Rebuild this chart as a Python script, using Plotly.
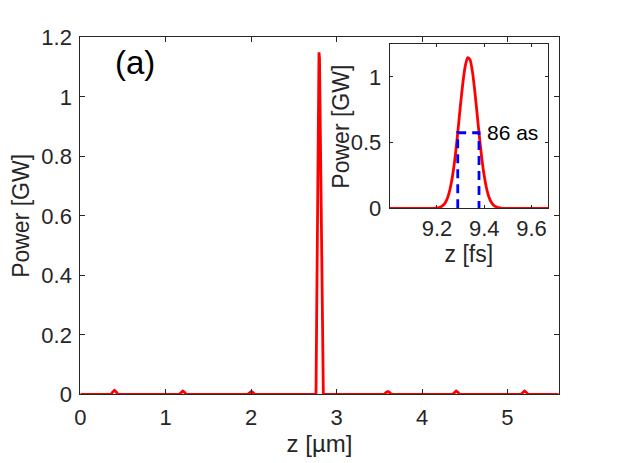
import plotly.graph_objects as go

# ---- main panel data (z in µm, power in GW) ----
main_z = [0.0, 0.36, 0.38, 0.40, 0.42, 0.44,
          1.16, 1.18, 1.20, 1.22, 1.24,
          1.96, 1.98, 2.00, 2.02, 2.04,
          2.759, 2.794, 2.800, 2.845,
          3.56, 3.58, 3.60, 3.62, 3.64,
          4.36, 4.38, 4.40, 4.42, 4.44,
          5.16, 5.18, 5.20, 5.22, 5.24, 5.6]
main_p = [0.0, 0.0, 0.008, 0.013, 0.008, 0.0,
          0.0, 0.007, 0.011, 0.007, 0.0,
          0.0, 0.006, 0.009, 0.006, 0.0,
          0.0, 1.15, 1.13, 0.0,
          0.0, 0.006, 0.009, 0.006, 0.0,
          0.0, 0.007, 0.011, 0.007, 0.0,
          0.0, 0.007, 0.011, 0.007, 0.0, 0.0]

# ---- inset data (z in fs, power in GW) ----
inset_z = [9.00, 9.19, 9.20, 9.21, 9.22, 9.23, 9.24, 9.25, 9.26, 9.27, 9.28, 9.29,
           9.30, 9.31, 9.32, 9.33, 9.34, 9.35, 9.36, 9.37, 9.38, 9.39, 9.40,
           9.41, 9.42, 9.43, 9.44, 9.45, 9.46, 9.47, 9.48, 9.67]
inset_p = [0.0, 0.0, 0.003, 0.006, 0.015, 0.030, 0.059, 0.108, 0.185, 0.295, 0.439, 0.610,
           0.792, 0.959, 1.085, 1.147, 1.131, 1.042, 0.896, 0.719, 0.539, 0.378, 0.247,
           0.151, 0.086, 0.046, 0.023, 0.011, 0.005, 0.002, 0.0, 0.0]

# FWHM marker (fs, GW)
fwhm_z = [9.288, 9.288, 9.378, 9.378]
fwhm_p = [0.0, 0.575, 0.575, 0.0]
fwhm_label = "86 as"
panel_label = "(a)"

main_xticks = [0, 1, 2, 3, 4, 5]
main_yticks = [0, 0.2, 0.4, 0.6, 0.8, 1.0, 1.2]
inset_xticks = [9.2, 9.4, 9.6]
inset_yticks = [0, 0.5, 1]

FONT = "Liberation Sans, Arial, sans-serif"
AX = "#262626"
RED = "#ff0000"

fig = go.Figure()
fig.add_trace(go.Scatter(x=main_z, y=main_p, mode="lines",
                         line=dict(color=RED, width=2.8), xaxis="x", yaxis="y",
                         showlegend=False))
fig.add_trace(go.Scatter(x=inset_z, y=inset_p, mode="lines",
                         line=dict(color=RED, width=2.8, shape="spline", smoothing=0.6),
                         xaxis="x2", yaxis="y2", showlegend=False))
fig.add_trace(go.Scatter(x=fwhm_z, y=fwhm_p, mode="lines",
                         line=dict(color="#0000ff", width=2.8, dash="9px,6px"),
                         xaxis="x2", yaxis="y2", showlegend=False))

common = dict(showline=True, linecolor=AX, linewidth=1, mirror="allticks",
              ticks="inside", tickcolor=AX, showgrid=False, zeroline=False,
              automargin=False,
              tickfont=dict(family=FONT, size=22, color=AX))
TFONT = dict(family=FONT, size=23, color=AX)

# page body adds an 8px offset; domains compensate for it
fig.update_layout(
    width=618, height=463,
    margin=dict(l=0, r=0, t=0, b=0),
    paper_bgcolor="white", plot_bgcolor="white",
    font=dict(family=FONT, color=AX),
    xaxis=dict(domain=[0.117, 0.8911], range=[0, 5.6], tickvals=main_xticks,
               ticklen=5, anchor="y", ticklabelstandoff=3,
               title=dict(text="z [µm]", font=dict(family=FONT, size=24, color=AX), standoff=6),
               **common),
    yaxis=dict(domain=[0.1657, 0.9363], range=[0, 1.2], tickvals=main_yticks,
               ticklen=5, anchor="x", ticklabelstandoff=3,
               title=dict(text="Power [GW]", font=TFONT, standoff=6),
               **common),
    xaxis2=dict(domain=[0.6176, 0.8738], range=[9.0, 9.67], tickvals=inset_xticks,
                ticklen=3, anchor="y2", ticklabelstandoff=0,
                title=dict(text="z [fs]", font=TFONT, standoff=5),
                **common),
    yaxis2=dict(domain=[0.5674, 0.9222], range=[0, 1.25], tickvals=inset_yticks,
                ticklen=3, anchor="x2", ticklabelstandoff=3,
                **common),
    annotations=[
        dict(text=panel_label, x=0.38, y=1.115, xref="x", yref="y", showarrow=False,
             xanchor="left", yanchor="middle", font=dict(family=FONT, size=33, color="black")),
        dict(text=fwhm_label, x=9.405, y=0.58, xref="x2", yref="y2", showarrow=False,
             xanchor="left", yanchor="middle", font=dict(family=FONT, size=21, color="black")),
        dict(text="Power [GW]", x=0.5388, y=0.7437, xref="paper", yref="paper",
             showarrow=False, textangle=-90, xanchor="center", yanchor="middle",
             font=TFONT),
    ],
)

fig.write_html("out.html")
